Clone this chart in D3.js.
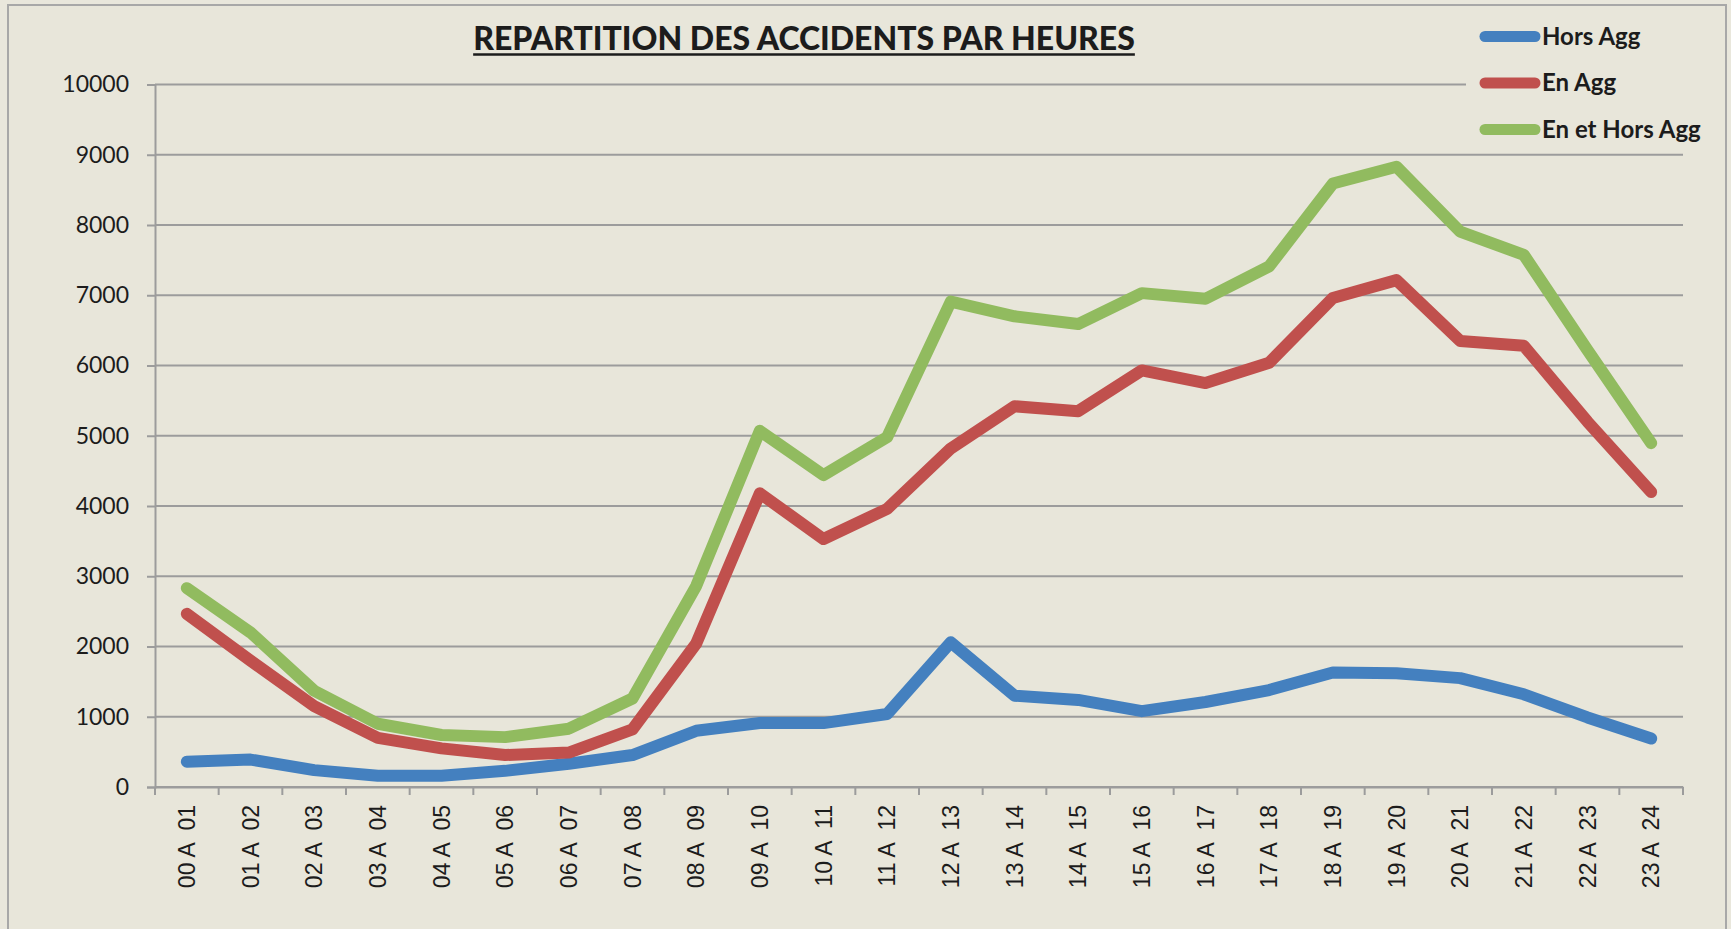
<!DOCTYPE html>
<html>
<head>
<meta charset="utf-8">
<script src="https://cdn.jsdelivr.net/npm/d3@7"></script>
<style>
    body { margin: 0; background: #e9e7dc; }
    svg { display: block; }
</style>
</head>
<body>
<div id="root"></div>
<script>
// ---------------------------- DATA ----------------------------
const categories = ["00 A 01", "01 A 02", "02 A 03", "03 A 04", "04 A 05", "05 A 06", "06 A 07", "07 A 08",
    "08 A 09", "09 A 10", "10 A 11", "11 A 12", "12 A 13", "13 A 14", "14 A 15", "15 A 16",
    "16 A 17", "17 A 18", "18 A 19", "19 A 20", "20 A 21", "21 A 22", "22 A 23", "23 A 24"];

const horsAgg = [360, 390, 240, 160, 160, 230, 330, 455, 800, 910, 910, 1040,
    2060, 1300, 1240, 1080, 1210, 1380, 1630, 1620, 1550, 1320, 990, 690];

const enAgg = [2465, 1800, 1150, 700, 550, 455, 490, 820, 2040, 4180, 3530, 3960,
    4820, 5420, 5350, 5930, 5750, 6040, 6960, 7215, 6350, 6280, 5200, 4200];

const enEtHorsAgg = [2830, 2200, 1370, 900, 740, 710, 830, 1260, 2860, 5070, 4440, 4980,
    6910, 6700, 6590, 7030, 6950, 7410, 8590, 8830, 7905, 7575, 6220, 4895];

const yTicks = [0, 1000, 2000, 3000, 4000, 5000, 6000, 7000, 8000, 9000, 10000];

const seriesNames = ["Hors Agg", "En Agg", "En et Hors Agg"];
const seriesColours = ["#4480bf", "#c0504d", "#91bb5f"];

const chartTitle = "REPARTITION DES ACCIDENTS PAR HEURES";

// ---------------------------- SETUP ----------------------------
const width = 1731;
const height = 929;
const bg = "#e8e6da";
const gridColour = "#9c9c9c";

const plotLeft = 155;
const plotRight = 1683;
const plotTop = 84.5;
const plotBottom = 787;

const svg = d3.select("#root")
    .append("svg")
    .attr("width", width)
    .attr("height", height);

// Chart frame
svg.append("rect")
    .attr("x", 8)
    .attr("y", 5)
    .attr("width", 1718)
    .attr("height", 960)
    .style("fill", bg)
    .style("stroke", "#a8a8a8")
    .style("stroke-width", 2);

const x = d3.scaleBand()
    .domain(categories)
    .range([plotLeft, plotRight])
    .padding(0);

const y = d3.scaleLinear()
    .domain([0, 10000])
    .range([plotBottom, plotTop]);

// ---------------------------- GRID AND AXES ----------------------------
svg.append("g")
    .selectAll("line")
    .data(yTicks)
    .enter()
    .append("line")
    .attr("x1", plotLeft)
    .attr("x2", plotRight)
    .attr("y1", d => y(d))
    .attr("y2", d => y(d))
    .style("stroke", gridColour)
    .style("stroke-width", 2);

// Y axis (ticks stick out 8px to the left)
const yAxis = svg.append("g")
    .attr("transform", "translate(" + plotLeft + ",0)")
    .call(d3.axisLeft(y).tickValues(yTicks).tickSize(8).tickPadding(18).tickFormat(d => d));
yAxis.select(".domain")
    .style("stroke", gridColour)
    .style("stroke-width", 2);
yAxis.selectAll(".tick line")
    .style("stroke", gridColour)
    .style("stroke-width", 2);
yAxis.selectAll("text")
    .style("font-family", "Lato, 'Open Sans', sans-serif")
    .style("font-size", "23px")
    .style("fill", "#1c1c1c");

// X axis: labels at band centres, ticks at band edges
const xAxis = svg.append("g")
    .attr("transform", "translate(0," + plotBottom + ")")
    .call(d3.axisBottom(x).tickSize(0).tickFormat(d => d.replace(" A ", " A  ")));
xAxis.select(".domain")
    .style("stroke", gridColour)
    .style("stroke-width", 2);
xAxis.selectAll("text")
    .attr("transform", "rotate(-90)")
    .attr("x", -18)
    .attr("y", 0)
    .attr("dy", "0.36em")
    .attr("text-anchor", "end")
    .style("white-space", "pre")
    .style("font-family", "'Liberation Sans', Arial, sans-serif")
    .style("font-size", "23px")
    .style("fill", "#1c1c1c");

const edges = categories.map(c => x(c)).concat([plotRight]);
svg.append("g")
    .selectAll("line")
    .data(edges)
    .enter()
    .append("line")
    .attr("x1", d => d)
    .attr("x2", d => d)
    .attr("y1", plotBottom)
    .attr("y2", plotBottom + 8)
    .style("stroke", gridColour)
    .style("stroke-width", 2);

// ---------------------------- LINES ----------------------------
const allSeries = [horsAgg, enAgg, enEtHorsAgg];
const line = d3.line()
    .x((d, i) => x(categories[i]) + x.bandwidth() / 2)
    .y(d => y(d));

svg.append("g")
    .selectAll("path")
    .data(allSeries)
    .enter()
    .append("path")
    .attr("d", line)
    .style("fill", "none")
    .style("stroke", (d, i) => seriesColours[i])
    .style("stroke-width", 12)
    .style("stroke-linecap", "round")
    .style("stroke-linejoin", "round");

// ---------------------------- TITLE ----------------------------
const title = svg.append("text")
    .attr("x", 804)
    .attr("y", 50)
    .attr("text-anchor", "middle")
    .style("font-family", "Lato, 'Open Sans', sans-serif")
    .style("font-weight", "900")
    .style("font-size", "32px")
    .style("fill", "#1c1c1c")
    .text(chartTitle);
const tb = title.node().getBBox();
svg.append("line")
    .attr("x1", tb.x)
    .attr("x2", tb.x + tb.width)
    .attr("y1", 54.5)
    .attr("y2", 54.5)
    .style("stroke", "#1c1c1c")
    .style("stroke-width", 2.5);

// ---------------------------- LEGEND ----------------------------
const legendY = [36.5, 83, 129.5];
const legend = svg.append("g");
legend.append("rect")
    .attr("x", 1466)
    .attr("y", 8)
    .attr("width", 258)
    .attr("height", 141)
    .style("fill", bg);
legend.selectAll("line")
    .data(seriesNames)
    .enter()
    .append("line")
    .attr("x1", 1485)
    .attr("x2", 1535)
    .attr("y1", (d, i) => legendY[i])
    .attr("y2", (d, i) => legendY[i])
    .style("stroke", (d, i) => seriesColours[i])
    .style("stroke-width", 11)
    .style("stroke-linecap", "round");
legend.selectAll("text")
    .data(seriesNames)
    .enter()
    .append("text")
    .attr("x", 1542)
    .attr("y", (d, i) => legendY[i] + 8)
    .style("font-family", "Lato, 'Open Sans', sans-serif")
    .style("font-weight", "bold")
    .style("font-size", "24px")
    .style("fill", "#1c1c1c")
    .text(d => d);
</script>
</body>
</html>
